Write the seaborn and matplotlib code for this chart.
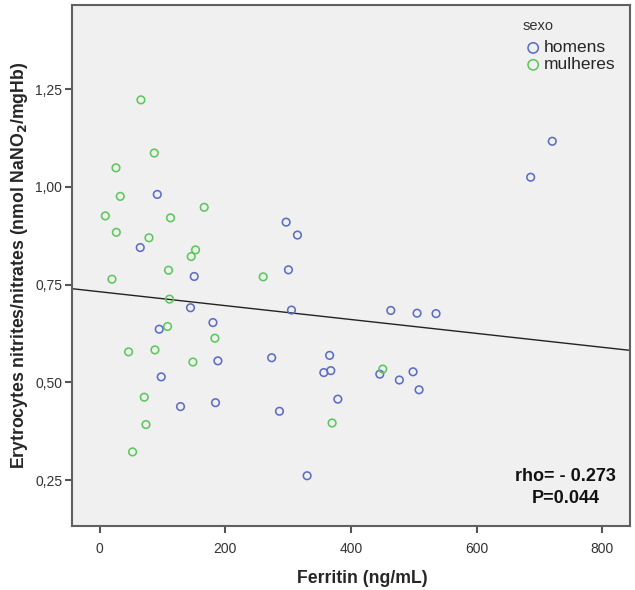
import numpy as np
import pandas as pd
import matplotlib
matplotlib.use("Agg")
import matplotlib.pyplot as plt
import seaborn as sns

# ---- data ----
ferritin_homens = [91.8, 64.7, 150.6, 296.9, 314.9, 300.6, 144.7, 305.4, 180.4, 94.9,
                   188.3, 273.9, 98.1, 128.8, 184.5, 286.3, 330.3, 366.1, 356.9, 368.0,
                   379.2, 463.5, 505.3, 535.5, 446.0, 477.1, 498.9, 508.5, 720.5, 686.1]
nitrite_homens = [0.981, 0.845, 0.771, 0.910, 0.877, 0.788, 0.691, 0.685, 0.653, 0.636,
                  0.555, 0.563, 0.514, 0.438, 0.448, 0.426, 0.261, 0.569, 0.525, 0.530,
                  0.457, 0.684, 0.677, 0.676, 0.521, 0.506, 0.527, 0.481, 1.117, 1.025]
ferritin_mulheres = [65.8, 87.0, 26.1, 32.9, 9.1, 26.6, 78.6, 112.9, 166.5, 152.7,
                     145.8, 109.7, 19.7, 260.4, 111.3, 108.2, 183.5, 46.1, 88.1, 148.5,
                     71.1, 73.8, 52.5, 450.7, 370.1]
nitrite_mulheres = [1.223, 1.087, 1.049, 0.976, 0.926, 0.884, 0.870, 0.921, 0.948, 0.839,
                    0.822, 0.787, 0.764, 0.770, 0.713, 0.643, 0.613, 0.578, 0.583, 0.552,
                    0.462, 0.392, 0.322, 0.534, 0.396]
groups = ["homens", "mulheres"]
colors = {"homens": "#5D6EC2", "mulheres": "#5CC85C"}
xticks = [0, 200, 400, 600, 800]
yticks = [0.25, 0.50, 0.75, 1.00, 1.25]
ytick_labels = ["0,25", "0,50", "0,75", "1,00", "1,25"]
annot_text = "rho= - 0.273\nP=0.044"
legend_title = "sexo"

df = pd.DataFrame({
    "ferritin": ferritin_homens + ferritin_mulheres,
    "nitrite": nitrite_homens + nitrite_mulheres,
    "sexo": ["homens"] * len(ferritin_homens) + ["mulheres"] * len(ferritin_mulheres),
})

sns.set_style("ticks")
plt.rcParams["font.family"] = ["Liberation Sans", "DejaVu Sans"]

fig = plt.figure(figsize=(6.35, 5.9), dpi=100)
ax = fig.add_axes([0.1134, 0.1093, 0.8786, 0.8827])
ax.set_facecolor("#F0F0F0")

xlim = (-43.9, 844.1)
ylim = (0.1336, 1.4665)

for g in groups:
    sub = df[df["sexo"] == g]
    sns.scatterplot(data=sub, x="ferritin", y="nitrite", ax=ax, s=30,
                    facecolor="none", edgecolor=colors[g], linewidth=1.15,
                    label=g, zorder=3)

# total fit line
slope, intercept = np.polyfit(df["ferritin"], df["nitrite"], 1)
xs = np.array(xlim)
ax.plot(xs, intercept + slope * xs, color="#222222", lw=1.0, zorder=2)

ax.set_xlim(*xlim)
ax.set_ylim(*ylim)
ax.set_xticks(xticks)
ax.set_xticklabels([str(t) for t in xticks])
ax.set_yticks(yticks)
ax.set_yticklabels(ytick_labels)
ax.tick_params(axis="both", direction="out", length=5, width=1.5, color="#555555",
               labelsize=10, labelcolor="#333333")
ax.tick_params(axis="x", pad=7)
ax.tick_params(axis="y", pad=2)

for sp in ax.spines.values():
    sp.set_color("#606060")
    sp.set_linewidth(1.5)

ax.set_xlabel("Ferritin (ng/mL)", fontsize=12.7, fontweight="bold")
ax.xaxis.set_label_coords(0.52, -0.085)
ax.set_ylabel(r"Erytrocytes nitrites/nitrates (nmol NaNO$_\mathbf{2}$/mgHb)",
              fontsize=12.7, fontweight="bold", labelpad=4)

ax.text(0.885, 0.036, annot_text, transform=ax.transAxes, ha="center", va="bottom",
        fontsize=13, fontweight="bold", multialignment="center", linespacing=1.38,
        color="#111111")

ax.text(0.808, 0.959, legend_title, transform=ax.transAxes, ha="left", va="center",
        fontsize=10.5, color="#333333")
leg = ax.legend(loc="upper left", bbox_to_anchor=(0.797, 0.945),
                frameon=False, fontsize=12.5,
                handletextpad=0.05, borderaxespad=0, labelspacing=0.1,
                handlelength=1.1)
for h in leg.legend_handles:
    h.set_sizes([55])

fig.savefig("out.png", dpi=100, facecolor="white")
